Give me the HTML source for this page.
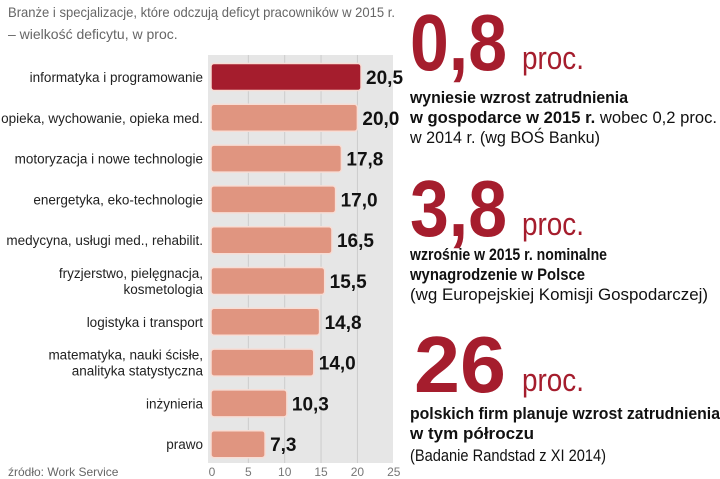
<!DOCTYPE html>
<html><head><meta charset="utf-8"><style>
body{margin:0;background:#fff;}
svg{display:block;font-family:"Liberation Sans",sans-serif;}
</style></head><body>
<svg id="c" width="720" height="479" viewBox="0 0 720 479">
<text x="8" y="17" font-size="14" fill="#666" textLength="387" lengthAdjust="spacingAndGlyphs">Branże i specjalizacje, które odczują deficyt pracowników w 2015 r.</text>
<text x="8" y="39" font-size="14" fill="#666">– wielkość deficytu, w proc.</text>
<rect x="208" y="55" width="185" height="408" fill="#e6e6e6"/>
<g id="grid"></g><g id="bars"></g><g id="ticks"></g>
<text x="8" y="476" font-size="12" fill="#666">źródło: Work Service</text>

<g fill="#a51d2d">
<text x="410" y="70" font-size="80" font-weight="bold" textLength="97" lengthAdjust="spacingAndGlyphs">0,8</text>
<text x="522" y="69" font-size="32" textLength="62" lengthAdjust="spacingAndGlyphs">proc.</text>
</g>
<g font-size="17" fill="#111">
<text x="410" y="103" font-weight="bold" textLength="218" lengthAdjust="spacingAndGlyphs">wyniesie wzrost zatrudnienia</text>
<text x="410" y="123" textLength="307" lengthAdjust="spacingAndGlyphs"><tspan font-weight="bold">w gospodarce  w 2015 r.</tspan>  wobec 0,2 proc.</text>
<text x="410" y="143" textLength="190" lengthAdjust="spacingAndGlyphs">w 2014 r. (wg BOŚ Banku)</text>
</g>
<g fill="#a51d2d">
<text x="410" y="236" font-size="80" font-weight="bold" textLength="97" lengthAdjust="spacingAndGlyphs">3,8</text>
<text x="522" y="235" font-size="32" textLength="62" lengthAdjust="spacingAndGlyphs">proc.</text>
</g>
<g font-size="17" fill="#111">
<text x="410" y="260" font-weight="bold" textLength="197" lengthAdjust="spacingAndGlyphs">wzrośnie w 2015 r. nominalne</text>
<text x="410" y="280" font-weight="bold" textLength="175" lengthAdjust="spacingAndGlyphs">wynagrodzenie w Polsce</text>
<text x="410" y="300" textLength="298" lengthAdjust="spacingAndGlyphs">(wg Europejskiej Komisji Gospodarczej)</text>
</g>
<g fill="#a51d2d">
<text x="414" y="392" font-size="80" font-weight="bold" textLength="92" lengthAdjust="spacingAndGlyphs">26</text>
<text x="522" y="391" font-size="32" textLength="62" lengthAdjust="spacingAndGlyphs">proc.</text>
</g>
<g font-size="17" fill="#111">
<text x="410" y="419" font-weight="bold" textLength="310" lengthAdjust="spacingAndGlyphs">polskich firm planuje wzrost zatrudnienia</text>
<text x="410" y="439" font-weight="bold" textLength="124" lengthAdjust="spacingAndGlyphs">w tym półroczu</text>
<text x="410" y="461" textLength="196" lengthAdjust="spacingAndGlyphs">(Badanie Randstad z XI 2014)</text>
</g>
</svg>
<script>
const categories=[["informatyka i programowanie"],["opieka, wychowanie, opieka med."],["motoryzacja i nowe technologie"],["energetyka, eko-technologie"],["medycyna, usługi med., rehabilit."],["fryzjerstwo, pielęgnacja,","kosmetologia"],["logistyka i transport"],["matematyka, nauki ścisłe,","analityka statystyczna"],["inżynieria"],["prawo"]];
const values=[20.5,20.0,17.8,17.0,16.5,15.5,14.8,14.0,10.3,7.3];
const labels=["20,5","20,0","17,8","17,0","16,5","15,5","14,8","14,0","10,3","7,3"];
const ticks=[0,5,10,15,20,25];
const NS="http://www.w3.org/2000/svg";
const x0=212,kx=7.27,y0=77,dy=40.8,bh=27;
const X=v=>x0+v*kx, Y=i=>y0+i*dy;
function mk(t,a,p){const e=document.createElementNS(NS,t);for(const k in a)e.setAttribute(k,a[k]);p.appendChild(e);return e;}
const G=document.getElementById('grid'),B=document.getElementById('bars'),T=document.getElementById('ticks');
ticks.forEach(t=>{
 if(t>0&&t<25){const l=mk('line',{x1:X(t),x2:X(t),y1:55,y2:463,stroke:'#ccc','stroke-width':1},G);
 
 }
 const tx=mk('text',{x:X(t),y:476,'font-size':12,fill:'#777','text-anchor':'middle'},T);tx.textContent=t;
 
 
});
values.forEach((v,i)=>{
 const r=mk('rect',{x:X(0)-1,y:Y(i)-bh/2,width:X(v)-X(0)+1,height:bh,rx:3,fill:i===0?'#a51d2d':'#e09580',stroke:'#f7ddd5','stroke-width':1.5},B);
 
 
 const vl=mk('text',{x:X(v)+5,y:Y(i)+7,'font-size':19,'font-weight':'bold',fill:'#111'},B);vl.textContent=labels[i];
 
 
 const c=categories[i];
 c.forEach((s,j)=>{
  const ly=Y(i)+5+(c.length>1?(j-0.5)*16:0);
  const cl=mk('text',{x:203,y:ly,'font-size':13.5,fill:'#222','text-anchor':'end'},B);cl.textContent=s;
  
  
 });
});
</script>
</body></html>
